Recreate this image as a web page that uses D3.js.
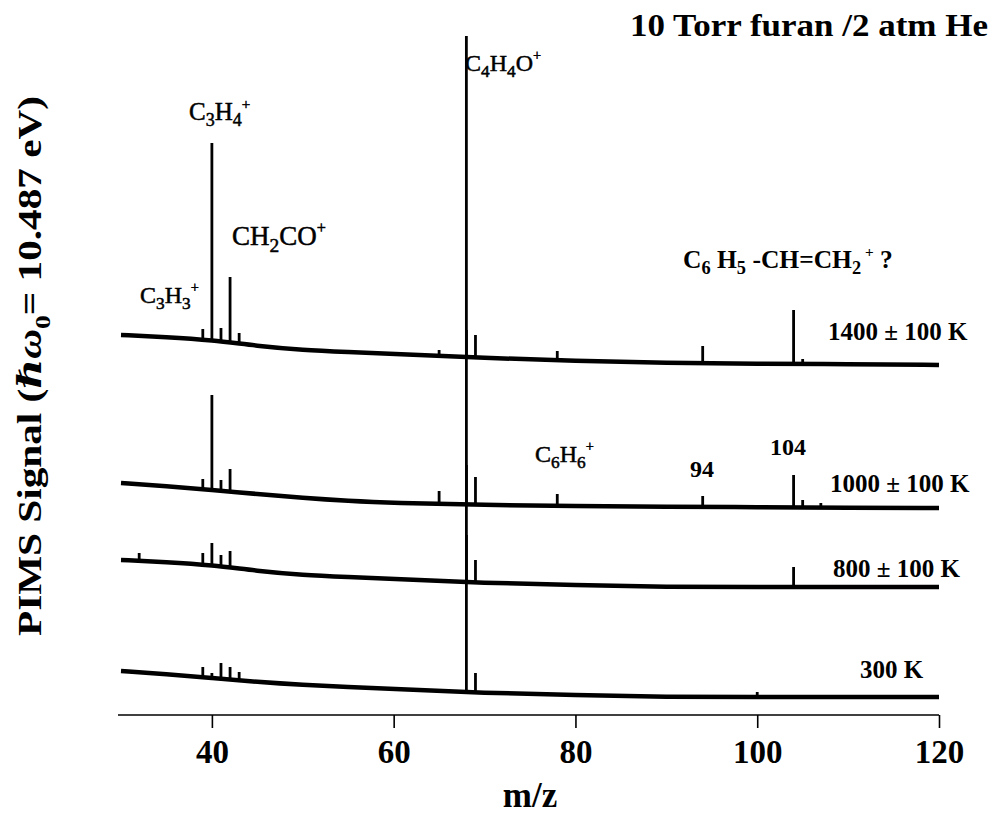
<!DOCTYPE html>
<html>
<head>
<meta charset="utf-8">
<title>PIMS furan</title>
<script src="https://cdn.jsdelivr.net/npm/d3@7/dist/d3.min.js"></script>
<style>
body { margin: 0; background: #fff; }
svg text { font-family: "Liberation Serif", "DejaVu Serif", serif; fill: #000; }
</style>
</head>
<body>
<svg id="chart" width="995" height="815"></svg>
<script>
var baseGrid = [30, 35, 40, 45, 50, 55, 60, 70, 80, 90, 100, 110, 120];

// baseline signal of each trace (a.u.)
var base1400 = [38.0, 37.8, 37.5, 36.9, 36.5, 36.3, 36.1, 35.7, 35.4, 35.2, 35.1, 35.1, 35.0];
var base1000 = [23.2, 22.9, 22.5, 22.1, 21.7, 21.4, 21.2, 21.0, 20.9, 20.8, 20.8, 20.7, 20.7];
var base800  = [15.5, 15.3, 15.0, 14.4, 14.0, 13.8, 13.6, 13.2, 13.0, 12.8, 12.8, 12.8, 12.8];
var base300  = [4.4, 4.1, 3.7, 3.3, 3.0, 2.8, 2.6, 2.2, 2.0, 1.8, 1.8, 1.8, 1.8];

// peaks: [m/z, top of peak]
var peaks1400 = [[39, 38.6], [40, 57.2], [41, 38.7], [42, 43.8], [43, 38.2], [65, 36.5], [68, 67.9], [69, 38.0], [78, 36.4], [94, 36.9], [104, 40.5], [105, 35.6]];
var peaks1000 = [[39, 23.6], [40, 32.0], [41, 23.5], [42, 24.6], [65, 22.4], [68, 38.5], [69, 23.8], [78, 22.1], [94, 21.9], [104, 24.0], [105, 21.5], [107, 21.2]];
var peaks800  = [[32, 16.2], [39, 16.2], [40, 17.2], [41, 16.0], [42, 16.4], [68, 25.0], [69, 15.5], [104, 14.8]];
var peaks300  = [[39, 4.8], [40, 4.2], [41, 5.2], [42, 4.8], [43, 4.3], [68, 18.0], [69, 4.2], [100, 2.3]];

var tickValues = [40, 60, 80, 100, 120];
var traceNames = ["1400 \u00b1 100 K", "1000 \u00b1 100 K", "800 \u00b1 100 K", "300 K"];

var traces = [
	{ name: traceNames[0], base: base1400, peaks: peaks1400, lx: 828, ly: 340 },
	{ name: traceNames[1], base: base1000, peaks: peaks1000, lx: 830, ly: 492 },
	{ name: traceNames[2], base: base800,  peaks: peaks800,  lx: 833, ly: 577 },
	{ name: traceNames[3], base: base300,  peaks: peaks300,  lx: 860, ly: 678 }
];

var svg = d3.select("#chart");

var x = d3.scaleLinear().domain([30, 120]).range([121, 939]);
var y = d3.scaleLinear().domain([0, 68]).range([715, 35]);

var line = d3.line()
	.x(function(d) { return x(d[0]); })
	.y(function(d) { return y(d[1]); })
	.curve(d3.curveBasis);

traces.forEach(function(t) {
	var pts = baseGrid.map(function(m, i) { return [m, t.base[i]]; });
	// piecewise scale to find the foot of each peak
	var baseAt = d3.scaleLinear().domain(baseGrid).range(t.base);

	svg.append("path")
		.attr("d", line(pts))
		.attr("fill", "none")
		.attr("stroke", "#000")
		.attr("stroke-width", 4.5)
		.attr("stroke-linejoin", "round");

	svg.selectAll(null)
		.data(t.peaks)
		.enter().append("line")
		.attr("x1", function(d) { return x(d[0]); })
		.attr("x2", function(d) { return x(d[0]); })
		.attr("y1", function(d) { return y(baseAt(d[0])) + 1; })
		.attr("y2", function(d) { return y(d[1]); })
		.attr("stroke", "#000")
		.attr("stroke-width", 2.8);

	svg.append("text")
		.attr("x", t.lx).attr("y", t.ly)
		.attr("font-size", 25).attr("font-weight", "bold")
		.text(t.name);
});

// x axis
var gx = svg.append("g")
	.attr("transform", "translate(0," + y(0) + ")")
	.call(d3.axisBottom(x).tickValues(tickValues).tickSize(13).tickSizeOuter(0));
gx.select(".domain").attr("stroke-width", 1.6).attr("d", "M118,0H939");
gx.selectAll(".tick line").attr("stroke-width", 1.6);
gx.selectAll(".tick text")
	.attr("y", 48).attr("dy", 0)
	.attr("font-family", "Liberation Serif")
	.attr("font-size", 33).attr("font-weight", "bold");

svg.append("text")
	.attr("x", 530).attr("y", 807)
	.attr("text-anchor", "middle")
	.attr("font-size", 35).attr("font-weight", "bold")
	.text("m/z");

// y label
var yl = svg.append("text")
	.attr("transform", "translate(41,366) rotate(-90)")
	.attr("text-anchor", "middle")
	.attr("font-size", 33).attr("font-weight", "bold")
	.attr("textLength", 540).attr("lengthAdjust", "spacingAndGlyphs");
yl.append("tspan").text("PIMS Signal (");
yl.append("tspan").attr("font-style", "italic").text("\u210f\u03c9");
yl.append("tspan").attr("font-size", 22).attr("dy", 9).text("0");
yl.append("tspan").attr("dy", -9).text("= 10.487 eV)");

// title
svg.append("text")
	.attr("x", 630).attr("y", 36)
	.attr("font-size", 31).attr("font-weight", "bold")
	.attr("textLength", 358).attr("lengthAdjust", "spacingAndGlyphs")
	.text("10 Torr furan /2 atm He");

// chemical labels: parts are [text, "" | "sub" | "sup"]
function chem(px, py, size, weight, parts) {
	var t = svg.append("text")
		.attr("x", px).attr("y", py)
		.attr("font-size", size).attr("font-weight", weight);
	if (weight !== "bold") t.attr("stroke", "#000").attr("stroke-width", 0.5);
	var shift = 0;
	parts.forEach(function(p) {
		var target = p[1] === "sub" ? size * 0.25 : p[1] === "sup" ? -size * 0.45 : 0;
		var ts = t.append("tspan").attr("dy", target - shift).text(p[0]);
		if (p[1] === "sub") ts.attr("font-size", size * 0.72);
		if (p[1] === "sup") ts.attr("font-size", size * 0.6);
		shift = target;
	});
	return t;
}

chem(465, 71, 24, "normal", [["C", ""], ["4", "sub"], ["H", ""], ["4", "sub"], ["O", ""], ["+", "sup"]]);
chem(189, 120, 25, "normal", [["C", ""], ["3", "sub"], ["H", ""], ["4", "sub"], ["+", "sup"]]);
chem(232, 245, 27, "normal", [["CH", ""], ["2", "sub"], ["CO", ""], ["+", "sup"]]);
chem(140, 303, 24, "normal", [["C", ""], ["3", "sub"], ["H", ""], ["3", "sub"], ["+", "sup"]]);
chem(535, 462, 24, "normal", [["C", ""], ["6", "sub"], ["H", ""], ["6", "sub"], ["+", "sup"]]);
chem(683, 268, 25.5, "bold", [["C", ""], ["6", "sub"], [" H", ""], ["5", "sub"], [" -CH=CH", ""], ["2", "sub"], [" +", "sup"], ["  ?", ""]]);

svg.append("text").attr("x", 690).attr("y", 477)
	.attr("font-size", 24).attr("font-weight", "bold").text("94");
svg.append("text").attr("x", 770).attr("y", 455)
	.attr("font-size", 24).attr("font-weight", "bold").text("104");
</script>
</body>
</html>
